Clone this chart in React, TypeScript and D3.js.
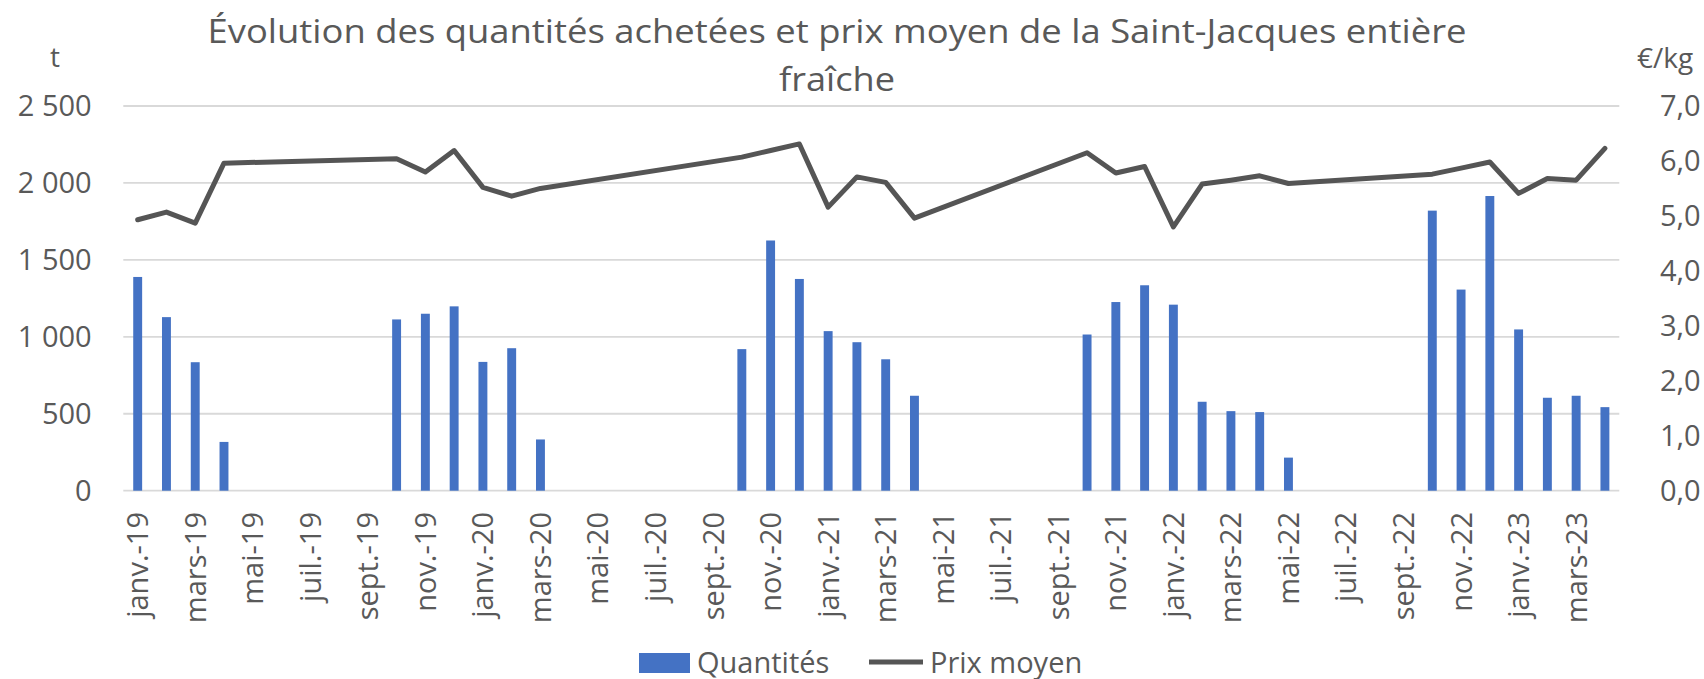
import React from "react";
import * as d3 from "d3";

const categories = [
  "janv.-19","févr.-19","mars-19","avr.-19","mai-19","juin-19","juil.-19","août-19","sept.-19","oct.-19","nov.-19","déc.-19",
  "janv.-20","févr.-20","mars-20","avr.-20","mai-20","juin-20","juil.-20","août-20","sept.-20","oct.-20","nov.-20","déc.-20",
  "janv.-21","févr.-21","mars-21","avr.-21","mai-21","juin-21","juil.-21","août-21","sept.-21","oct.-21","nov.-21","déc.-21",
  "janv.-22","févr.-22","mars-22","avr.-22","mai-22","juin-22","juil.-22","août-22","sept.-22","oct.-22","nov.-22","déc.-22",
  "janv.-23","févr.-23","mars-23","avr.-23",
];

const quantities: (number | null)[] = [
  1389, 1128, 835, 317, null, null, null, null, null, 1113, 1150, 1198,
  837, 926, 333, null, null, null, null, null, null, 920, 1626, 1376,
  1037, 965, 854, 617, null, null, null, null, null, 1015, 1226, 1335,
  1209, 578, 517, 511, 215, null, null, null, null, 1820, 1307, 1915,
  1048, 604, 617, 543,
];

const prices: (number | null)[] = [
  4.93, 5.07, 4.87, 5.96, null, null, null, null, null, 6.04, 5.80, 6.19,
  5.52, 5.36, 5.50, null, null, null, null, null, null, 6.07, 6.19, 6.31,
  5.16, 5.71, 5.61, 4.96, null, null, null, null, null, 6.15, 5.78, 5.90,
  4.80, 5.58, 5.65, 5.73, 5.59, null, null, null, null, 5.76, 5.87, 5.98,
  5.41, 5.68, 5.65, 6.23,
];

const leftTicks = [0, 500, 1000, 1500, 2000, 2500];
const rightTicks = [0, 1, 2, 3, 4, 5, 6, 7];

const titleLines = [
  "Évolution des quantités achetées et prix moyen de la Saint-Jacques entière",
  "fraîche",
];

const W = 1704;
const H = 679;
const plotLeft = 123.3;
const plotRight = 1619.3;
const plotTop = 106;
const plotBottom = 490.7;
const FONT = "'Open Sans', 'Noto Sans', sans-serif";
const TEXT = "#595959";
const BAR = "#4472C4";
const LINE = "#555555";
const GRID = "#d9d9d9";

export default function App() {
  const x = d3
    .scaleBand<string>()
    .domain(categories)
    .range([plotLeft, plotRight])
    .paddingInner(0.69)
    .paddingOuter(0.345);
  const yL = d3.scaleLinear().domain([0, 2500]).range([plotBottom, plotTop]);
  const yR = d3.scaleLinear().domain([0, 7]).range([plotBottom, plotTop]);
  const bw = x.bandwidth();
  const cx = (c: string) => (x(c) as number) + bw / 2;

  const fmtL = (v: number) => d3.format(",")(v).replace(/,/g, " ");
  const fmtR = (v: number) => d3.format(".1f")(v).replace(".", ",");

  const pricePts = categories
    .map((c, i) => ({ c, v: prices[i] }))
    .filter((d) => d.v != null) as { c: string; v: number }[];
  const linePath = d3
    .line<{ c: string; v: number }>()
    .x((d) => cx(d.c))
    .y((d) => yR(d.v))(pricePts);

  return (
    <svg
      width={W}
      height={H}
      style={{ position: "absolute", left: 0, top: 0, background: "#fff" }}
      fontFamily={FONT}
    >
      <rect x={0} y={0} width={W} height={H} fill="#fff" />
      {/* title */}
      <text x={837} y={43} textAnchor="middle" fontSize={32} fill={TEXT} textLength={1259} lengthAdjust="spacingAndGlyphs">
        {titleLines[0]}
      </text>
      <text x={837} y={91} textAnchor="middle" fontSize={32} fill={TEXT} textLength={116} lengthAdjust="spacingAndGlyphs">
        {titleLines[1]}
      </text>
      {/* axis unit labels */}
      <text x={55} y={67} textAnchor="middle" fontSize={28} fill={TEXT}>t</text>
      <text x={1637} y={68} textAnchor="start" fontSize={28} fill={TEXT}>€/kg</text>

      {/* gridlines */}
      {leftTicks.map((t) => (
        <line key={t} x1={plotLeft} x2={plotRight} y1={yL(t)} y2={yL(t)} stroke={GRID} strokeWidth={1.8} />
      ))}
      {/* left tick labels */}
      {leftTicks.map((t) => (
        <text key={"l" + t} x={91.7} y={yL(t)} dy="0.36em" textAnchor="end" fontSize={29} fill={TEXT}>
          {fmtL(t)}
        </text>
      ))}
      {/* right tick labels */}
      {rightTicks.map((t) => (
        <text key={"r" + t} x={1660} y={yR(t)} dy="0.36em" textAnchor="start" fontSize={29} fill={TEXT}>
          {fmtR(t)}
        </text>
      ))}

      {/* bars */}
      {categories.map((c, i) =>
        quantities[i] == null ? null : (
          <rect
            key={"b" + c}
            x={x(c)}
            y={yL(quantities[i] as number)}
            width={bw}
            height={plotBottom - yL(quantities[i] as number)}
            fill={BAR}
          />
        )
      )}

      {/* price line */}
      <path d={linePath || ""} fill="none" stroke={LINE} strokeWidth={5} strokeLinejoin="round" strokeLinecap="round" />

      {/* x labels */}
      {categories.map((c, i) =>
        i % 2 === 0 ? (
          <text
            key={"x" + c}
            transform={`translate(${cx(c)},${512}) rotate(-90)`}
            dy="0.36em"
            textAnchor="end"
            fontSize={29}
            fill={TEXT}
          >
            {c}
          </text>
        ) : null
      )}

      {/* legend */}
      <rect x={639} y={653} width={51} height={20} fill={BAR} />
      <text x={697} y={672.5} fontSize={29} fill={TEXT}>Quantités</text>
      <line x1={869} x2={923} y1={662} y2={662} stroke={LINE} strokeWidth={5} />
      <text x={930} y={672.5} fontSize={29} fill={TEXT}>Prix moyen</text>
    </svg>
  );
}
